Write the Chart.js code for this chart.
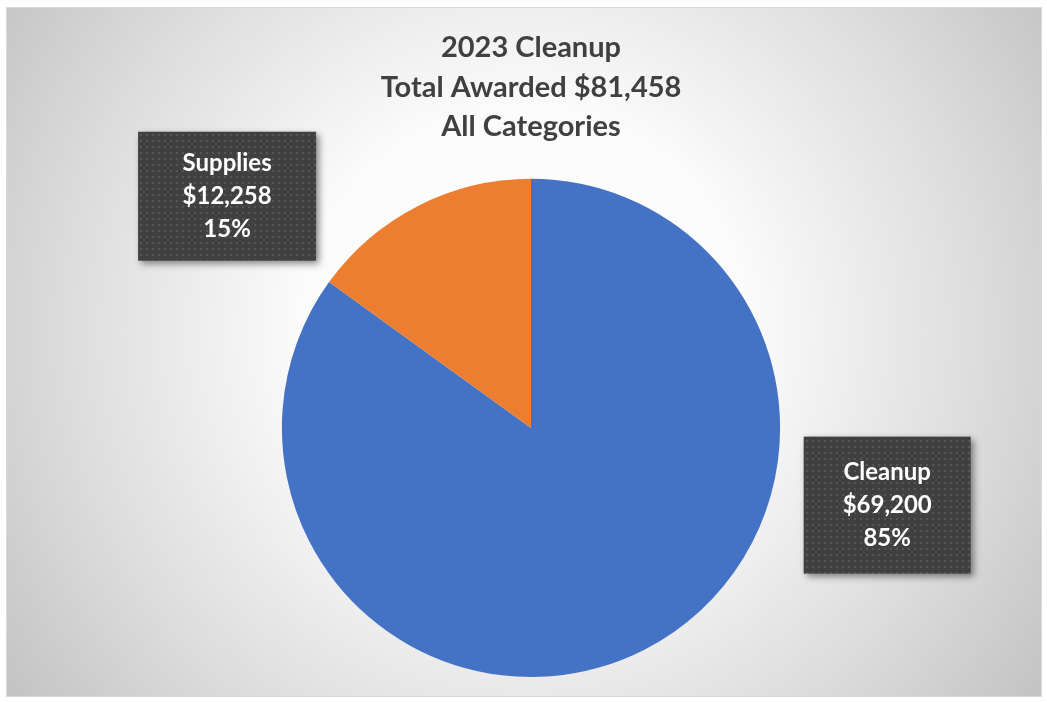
<!DOCTYPE html>
<html>
<head>
<meta charset="utf-8">
<script src="https://cdn.jsdelivr.net/npm/chart.js@4.4.1/dist/chart.umd.min.js"></script>
<style>
  html, body { margin: 0; padding: 0; background: #fff; }
  #pie { display: block; }
</style>
</head>
<body>
<canvas id="pie" width="1047" height="702"></canvas>
<script>
// chart values
const categories = ['Cleanup', 'Supplies'];
const amounts = [69200, 12258];
const sliceColors = ['#4472C4', '#ED7D31'];
const titleLines = ['2023 Cleanup', 'Total Awarded', 'All Categories'];

const total = amounts.reduce((a, b) => a + b, 0);
const money = v => '$' + v.toLocaleString('en-US');

// frame + radial gray background
const backgroundPlugin = {
  id: 'frameBg',
  beforeDraw(chart) {
    const ctx = chart.ctx;
    const w = chart.width, h = chart.height;
    ctx.save();
    ctx.fillStyle = '#ffffff';
    ctx.fillRect(0, 0, w, h);
    const x0 = 6, y0 = 7, x1 = w - 5, y1 = h - 5;
    const cx = (x0 + x1) / 2, cy = 330;
    const g = ctx.createRadialGradient(cx, cy, 0, cx, cy, 640);
    g.addColorStop(0, '#ffffff');
    g.addColorStop(0.35, '#fbfbfb');
    g.addColorStop(0.72, '#dcdcdc');
    g.addColorStop(1, '#c2c2c2');
    ctx.fillStyle = g;
    ctx.fillRect(x0, y0, x1 - x0, y1 - y0);
    ctx.strokeStyle = '#d9d9d9';
    ctx.lineWidth = 1;
    ctx.strokeRect(x0 + 0.5, y0 + 0.5, x1 - x0 - 1, y1 - y0 - 1);
    ctx.restore();
  }
};

// dark textured callout boxes
function dotPattern(ctx) {
  const c = document.createElement('canvas');
  c.width = 6; c.height = 6;
  const p = c.getContext('2d');
  p.fillStyle = '#404040';
  p.fillRect(0, 0, 6, 6);
  p.fillStyle = '#555555';
  p.fillRect(2, 2, 2, 2);
  return ctx.createPattern(c, 'repeat');
}

const calloutPlugin = {
  id: 'callouts',
  afterDatasetsDraw(chart, args, opts) {
    const ctx = chart.ctx;
    const meta = chart.getDatasetMeta(0);
    const pat = dotPattern(ctx);
    meta.data.forEach((arc, i) => {
      const b = opts.boxes[i];
      const r = arc.outerRadius;
      const bx = arc.x + b.dx * r - b.w / 2;
      const by = arc.y + b.dy * r - b.h / 2;
      ctx.save();
      ctx.shadowColor = 'rgba(0,0,0,0.45)';
      ctx.shadowBlur = 7;
      ctx.shadowOffsetX = 3;
      ctx.shadowOffsetY = 3;
      ctx.fillStyle = pat;
      ctx.fillRect(bx, by, b.w, b.h);
      ctx.restore();

      const v = amounts[i];
      const lines = [categories[i], money(v), Math.round(v / total * 100) + '%'];
      ctx.save();
      ctx.fillStyle = '#ffffff';
      ctx.font = 'bold 24px Lato, "Open Sans", sans-serif';
      ctx.textAlign = 'center';
      ctx.textBaseline = 'middle';
      const mid = bx + b.w / 2;
      lines.forEach((t, k) => {
        ctx.fillText(t, mid, by + b.h / 2 + (k - 1) * 33);
      });
      ctx.restore();
    });
  }
};

const ctx = document.getElementById('pie').getContext('2d');
new Chart(ctx, {
  type: 'pie',
  data: {
    labels: categories,
    datasets: [{
      data: amounts,
      backgroundColor: sliceColors,
      borderWidth: 0,
      hoverOffset: 0
    }]
  },
  options: {
    responsive: false,
    animation: false,
    events: [],
    layout: { padding: { left: 30, right: 15, top: 0, bottom: 25 } },
    plugins: {
      legend: { display: false },
      tooltip: { enabled: false },
      title: {
        display: true,
        text: [titleLines[0], titleLines[1] + ' ' + money(total), titleLines[2]],
        color: '#404040',
        font: { family: 'Lato, "Open Sans", sans-serif', size: 29, weight: 'bold', lineHeight: 1.36 },
        padding: { top: 28, bottom: 32.5 }
      },
      callouts: {
        boxes: [
          { dx: 1.43, dy: 0.31, w: 167, h: 137 },
          { dx: -1.22, dy: -0.93, w: 178, h: 129 }
        ]
      }
    }
  },
  plugins: [backgroundPlugin, calloutPlugin]
});
</script>
</body>
</html>
